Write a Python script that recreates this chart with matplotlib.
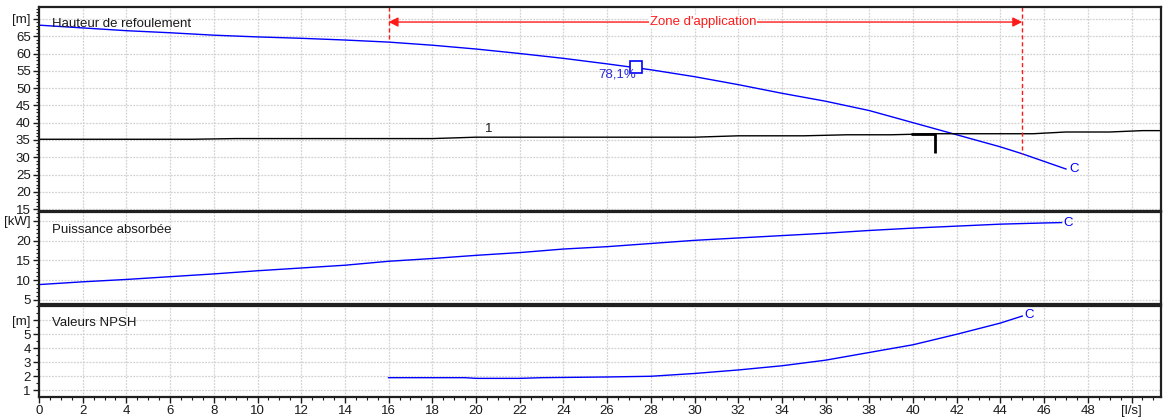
import matplotlib
matplotlib.use("Agg")
import matplotlib.pyplot as plt
from matplotlib.ticker import MultipleLocator, FixedLocator

plt.rcParams["font.family"] = ["Liberation Sans", "DejaVu Sans"]
plt.rcParams["font.size"] = 9.5

# pump head curve [m]
head_q = [0, 2, 4, 6, 8, 10, 12, 14, 16, 18, 20, 22, 24, 26, 28, 30, 32, 34, 36, 38, 40, 42, 44, 45, 47]
head_h = [68.2, 67.4, 66.6, 66.0, 65.3, 64.8, 64.4, 63.9, 63.3, 62.4, 61.3, 60.0, 58.6, 57.0, 55.3,
          53.3, 51.0, 48.5, 46.2, 43.5, 40.0, 36.5, 33.0, 31.0, 26.6]

# system curve "1" [m]
sys_q = [0, 7, 9, 18, 20, 30, 32, 35, 37, 39, 41, 45.5, 47, 49, 50.5, 51.4]
sys_h = [35.2, 35.2, 35.4, 35.4, 35.8, 35.8, 36.2, 36.2, 36.5, 36.5, 36.8, 36.8, 37.3, 37.3, 37.7, 37.7]

# best efficiency point
bep_q = 27.3
bep_h = 56.1
bep_label = "78,1%"

# operating point marker
op_q = [39.9, 41.0, 41.0]
op_h = [36.7, 36.7, 31.2]

# application zone
zone_q = [16, 45]
zone_h = [63.3, 31.0]

# power [kW]
power_q = [0, 2, 4, 6, 8, 10, 12, 14, 16, 18, 20, 22, 24, 26, 28, 30, 32, 34, 36, 38, 40, 42, 44, 46, 46.8]
power_p = [8.9, 9.6, 10.2, 10.9, 11.6, 12.4, 13.1, 13.8, 14.8, 15.5, 16.3, 17.0, 17.9, 18.5, 19.3,
           20.1, 20.7, 21.3, 21.9, 22.6, 23.2, 23.7, 24.2, 24.5, 24.6]

# NPSH [m]
npsh_q = [16, 18, 19.5, 20, 22, 23, 26, 28, 30, 32, 34, 36, 38, 40, 42, 44, 45]
npsh_h = [1.9, 1.9, 1.9, 1.85, 1.85, 1.9, 1.95, 2.0, 2.2, 2.45, 2.75, 3.15, 3.7, 4.25, 5.0, 5.8, 6.3]

x_ticks = list(range(0, 52, 2))
x_labels = [str(v) for v in range(0, 50, 2)] + ["[l/s]"]

BLUE = "#0000ff"
RED = "#ff1a1a"
GRID = "#d2d2d2"
TXT = "#1a1a1a"
LEFT = 39 / 1163
WIDTH = (1161 - 39) / 1163


def style_axes(ax, ylim, yticks, ylabels, yminor, show_x):
    ax.set_xlim(0, 51.35)
    ax.set_ylim(*ylim)
    ax.xaxis.set_major_locator(FixedLocator(x_ticks))
    ax.xaxis.set_minor_locator(MultipleLocator(0.5))
    ax.yaxis.set_major_locator(FixedLocator(yticks))
    ax.yaxis.set_minor_locator(MultipleLocator(yminor))
    ax.set_yticklabels(ylabels)
    if show_x:
        ax.set_xticklabels(x_labels)
    else:
        ax.tick_params(axis="x", which="both", labelbottom=False, length=0)
    ax.tick_params(axis="both", which="major", length=4, width=1, pad=2, colors=TXT)
    ax.tick_params(axis="both", which="minor", length=2, width=0.8, colors=TXT)
    ax.grid(True, which="major", color=GRID, linestyle=(0, (1.5, 1)), linewidth=0.9)
    for sp in ax.spines.values():
        sp.set_linewidth(1.6)
        sp.set_color("#202020")


def main():
    fig = plt.figure(figsize=(11.63, 4.19), dpi=100)
    ax1 = fig.add_axes([LEFT, 1 - 210.5 / 419, WIDTH, 203.5 / 419])
    ax2 = fig.add_axes([LEFT, 1 - 303.7 / 419, WIDTH, 91.4 / 419])
    ax3 = fig.add_axes([LEFT, 1 - 397 / 419, WIDTH, 91.3 / 419])

    # head
    style_axes(ax1, (14.6, 73.45), list(range(15, 75, 5)),
               [str(v) for v in range(15, 70, 5)] + ["[m]"], 1, False)
    ax1.plot(head_q, head_h, color=BLUE, lw=1)
    ax1.plot(sys_q, sys_h, color="black", lw=1)
    ax1.plot(op_q, op_h, color="black", lw=2, solid_capstyle="butt")
    ax1.text(20.6, 38.2, "1", ha="center", va="center", color=TXT)
    ax1.plot([bep_q], [bep_h], marker="s", ms=9, mfc="white", mec=BLUE, mew=1.2)
    ax1.text(bep_q - 0.85, bep_h - 2.1, bep_label, ha="center", va="center", color="#2a2ad8")
    ax1.text(head_q[-1] + 0.15, head_h[-1], "C", ha="left", va="center", color=BLUE)
    for q, h in zip(zone_q, zone_h):
        ax1.plot([q, q], [73.45, h], color=RED, lw=1, linestyle=(0, (3, 2)))
    ax1.annotate("", xy=(zone_q[0], 69.1), xytext=(zone_q[1], 69.1),
                 arrowprops=dict(arrowstyle="<|-|>", color=RED, lw=1, mutation_scale=14,
                                 shrinkA=0, shrinkB=0))
    ax1.text(30.4, 69.1, "Zone d'application", ha="center", va="center", color=RED,
             bbox=dict(facecolor="white", edgecolor="none", pad=0.5))
    ax1.text(0.0116, 0.916, "Hauteur de refoulement", transform=ax1.transAxes,
             ha="left", va="center", color=TXT)

    # power
    style_axes(ax2, (4.06, 27.2), [5, 10, 15, 20, 25], ["5", "10", "15", "20", "[kW]"], 1, False)
    ax2.plot(power_q, power_p, color=BLUE, lw=1)
    ax2.text(power_q[-1] + 0.1, power_p[-1], "C", ha="left", va="center", color=BLUE)
    ax2.text(0.0116, 0.806, "Puissance absorbée", transform=ax2.transAxes,
             ha="left", va="center", color=TXT)

    # NPSH
    style_axes(ax3, (0.52, 7.04), [1, 2, 3, 4, 5, 6], ["1", "2", "3", "4", "5", "[m]"], 0.5, True)
    ax3.plot(npsh_q, npsh_h, color=BLUE, lw=1)
    ax3.text(npsh_q[-1] + 0.1, npsh_h[-1] + 0.05, "C", ha="left", va="center", color=BLUE)
    ax3.text(0.0116, 0.807, "Valeurs NPSH", transform=ax3.transAxes,
             ha="left", va="center", color=TXT)

    fig.savefig("out.png", dpi=100)
    plt.close(fig)


if __name__ == "__main__":
    main()
